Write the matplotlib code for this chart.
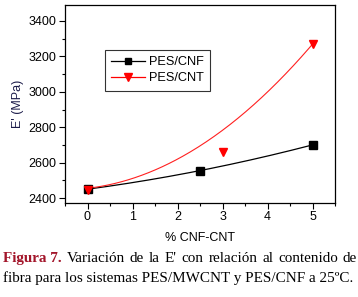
import numpy as np
import matplotlib
matplotlib.use("Agg")
import matplotlib.pyplot as plt
from matplotlib.ticker import MultipleLocator

# Data
cnf_x = [0, 2.5, 5]
cnf_y = [2450, 2555, 2700]
cnt_x = [0, 3, 5]
cnt_y = [2445, 2660, 3270]
# fitted trend curve for PES/CNT (quadratic coefficients, highest power first)
cnt_fit = [26.8, 28.8, 2455]

xticks = [0, 1, 2, 3, 4, 5]
yticks = [2400, 2600, 2800, 3000, 3200, 3400]

plt.rcParams['font.family'] = ['Liberation Sans', 'DejaVu Sans']

fig = plt.figure(figsize=(3.58, 2.97), dpi=100)
ax = fig.add_axes([65/358, 1 - 203/297, 270/358, 198.5/297])

xs = np.linspace(0, 5, 200)
cnf_coef = np.polyfit(cnf_x, cnf_y, 2)
ax.plot(xs, np.polyval(cnf_coef, xs), color='black', lw=0.9, zorder=2)
ax.plot(xs, np.polyval(cnt_fit, xs), color='#ff2020', lw=0.8, zorder=2)
ax.plot(cnf_x, cnf_y, 's', color='black', ms=5.2, zorder=3)
ax.plot(cnt_x, cnt_y, 'v', color='#ff0000', ms=6, zorder=3)

# legend handles
h1, = ax.plot([], [], '-s', color='black', ms=5, lw=0.9, label='PES/CNF')
h2, = ax.plot([], [], '-v', color='#ff0000', ms=6, lw=0.9, label='PES/CNT')
leg = ax.legend(handles=[h1, h2], loc='upper left', bbox_to_anchor=(0.148, 0.771),
                fontsize=9.2, frameon=True, fancybox=False, edgecolor='black',
                handlelength=2.6, handletextpad=0.35, borderpad=0.5,
                labelspacing=0.3, borderaxespad=0)
leg.get_frame().set_linewidth(0.8)

ax.set_xlim(-0.5, 5.5)
ax.set_ylim(2372, 3493)
ax.set_xticks(xticks)
ax.set_yticks(yticks)
ax.xaxis.set_minor_locator(MultipleLocator(0.5))
ax.yaxis.set_minor_locator(MultipleLocator(100))
ax.tick_params(axis='both', which='major', direction='out', length=4, width=0.8,
               labelsize=9, top=False, right=False, pad=2)
ax.tick_params(axis='both', which='minor', direction='out', length=2.5, width=0.8,
               top=False, right=False)
for s in ax.spines.values():
    s.set_linewidth(0.9)

ax.set_xlabel('% CNF-CNT', fontsize=9, labelpad=6)
ax.set_ylabel("E' (MPa)", fontsize=9, color='#1c1c4a', labelpad=3)

# caption (first line justified)
W = 358
t1 = fig.text(3/W, 1 - 262/297, 'Figura 7.', family='Liberation Serif',
              fontsize=10.9, fontweight='bold', color='#a3162b', va='baseline')
fig.canvas.draw()
r = fig.canvas.get_renderer()
start = t1.get_window_extent(r).x1
words = "Variación de la E' con relación al contenido de".split()
objs = [fig.text(0, 1 - 262/297, w, family='Liberation Serif', fontsize=10.9,
                 color='black', va='baseline') for w in words]
widths = [o.get_window_extent(r).width for o in objs]
end = 357
gap = (end - start - sum(widths)) / len(words)
x = start + gap
for o, wd in zip(objs, widths):
    o.set_x(x / W)
    x += wd + gap
fig.text(3/W, 1 - 282/297,
         "fibra para los sistemas PES/MWCNT y PES/CNF a 25ºC.",
         family='Liberation Serif', fontsize=10.9, color='black', va='baseline')

fig.savefig('out.png', dpi=100)
